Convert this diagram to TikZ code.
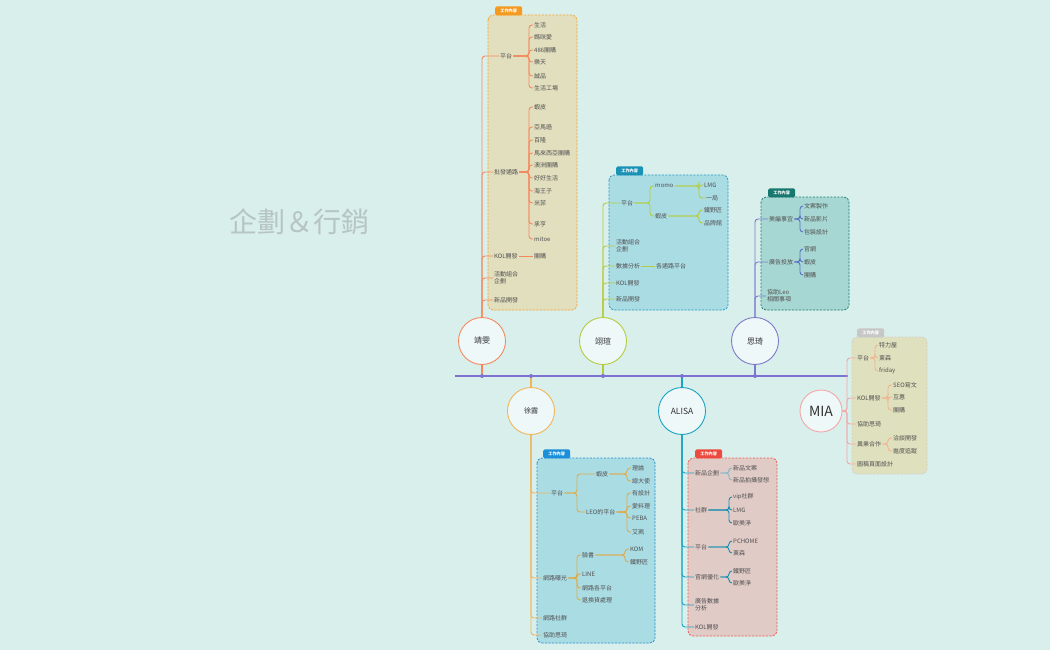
\documentclass[tikz,border=0pt]{standalone}
\usepackage{fontspec}
\setmainfont{Noto Sans CJK TC}
\definecolor{bgc}{HTML}{D9EFEC}
\definecolor{txt}{HTML}{505050}
\definecolor{ttl}{HTML}{B6C4C4}
\definecolor{pfill}{HTML}{EEF8F8}
\definecolor{axis}{HTML}{7B73CF}
\definecolor{jwc}{HTML}{F5895E}
\definecolor{yxc}{HTML}{B6CB3E}
\definecolor{sqc}{HTML}{7C7ACB}
\definecolor{sqd}{HTML}{5C72C4}
\definecolor{xlc}{HTML}{F2B458}
\definecolor{xld}{HTML}{DEAA4A}
\definecolor{alc}{HTML}{1AA3C2}
\definecolor{ald}{HTML}{1A8DB0}
\definecolor{ale}{HTML}{8DB8C8}
\definecolor{mic}{HTML}{F3A8A8}
\definecolor{mid}{HTML}{F2B590}
% boxes: border, fill, tag
\definecolor{jwb}{HTML}{F7A630}\definecolor{jwf}{HTML}{E2DFBE}\definecolor{jwt}{HTML}{F59A1E}
\definecolor{yxb}{HTML}{2A9DC4}\definecolor{yxf}{HTML}{AADCE4}\definecolor{yxt}{HTML}{1A92B6}
\definecolor{sqb}{HTML}{1F7F74}\definecolor{sqf}{HTML}{A7D7D3}\definecolor{sqt}{HTML}{16786E}
\definecolor{mib}{HTML}{D0D0C8}\definecolor{mif}{HTML}{DFE0BE}\definecolor{mit}{HTML}{C7C7C7}
\definecolor{xlb}{HTML}{2590D4}\definecolor{xlf}{HTML}{AADCE4}\definecolor{xlt}{HTML}{1C8FDA}
\definecolor{alb}{HTML}{EF5D57}\definecolor{alf}{HTML}{E1CBC7}\definecolor{alt}{HTML}{EC4A3F}
\begin{document}
\begin{tikzpicture}[x=1pt,y=-1pt,
  leaf/.style={anchor=west,inner sep=1pt,text=txt,font=\fontsize{6}{7.2}\selectfont,align=left},
  who/.style={circle,draw=#1,fill=pfill,line width=0.9pt,minimum size=47pt,inner sep=0pt,text=black!80,font=\fontsize{8}{9}\selectfont},
  workbox/.style 2 args={draw=#1,fill=#2,dash pattern=on 2.2pt off 1.3pt,line width=0.8pt,rounded corners=5pt},
  worktag/.style={fill=#1,text=white,font=\fontsize{4.2}{5}\selectfont\bfseries,inner sep=0pt,minimum width=27pt,minimum height=9pt,rounded corners=1.5pt,anchor=south west},
  limb/.style={draw=#1,line width=0.9pt,rounded corners=3pt}]
\fill[bgc] (0,0) rectangle (1050,650);
\useasboundingbox (0,0) rectangle (1050,650);

\node[text=ttl,font=\fontsize{28}{30}\selectfont] (title) at (299,222) {企劃＆行銷};

% work boxes
\draw[workbox={jwb}{jwf}] (488,15) rectangle (577,310);
\node[worktag=jwt] (jwtag) at (495,15.5) {工作內容};
\draw[workbox={yxb}{yxf}] (609,175) rectangle (728,310);
\node[worktag=yxt] (yxtag) at (616,175.5) {工作內容};
\draw[workbox={sqb}{sqf}] (761,197) rectangle (849,310);
\node[worktag=sqt] (sqtag) at (768,197.5) {工作內容};
\draw[workbox={mib}{mif}] (852,337) rectangle (927,474);
\node[worktag=mit] (mitag) at (857,337.5) {工作內容};
\draw[workbox={xlb}{xlf}] (537,458) rectangle (655,643);
\node[worktag=xlt] (xltag) at (543,458.5) {工作內容};
\draw[workbox={alb}{alf}] (688,458) rectangle (777,636);
\node[worktag=alt] (altag) at (695,458.5) {工作內容};

% time line
\coordinate (ax0) at (455,376);
\coordinate (ax1) at (848,376);
\draw[axis,line width=1.3pt] (ax0) -- (ax1);

% people
\node[who=jwc] (jw) at (482,341) {靖雯};
\node[who=yxc] (yx) at (603,341) {翊瑄};
\node[who=sqc] (sq) at (755,341) {思琦};
\node[who=xlc,font=\fontsize{7}{8}\selectfont] (xl) at (531,411) {徐露};
\node[who=alc,font=\fontsize{8.5}{9}\selectfont] (al) at (682,411) {ALISA};
\node[who=mic,minimum size=42pt,font=\fontsize{14}{15}\selectfont] (mia) at (821,411) {MIA};

\draw[jwc,line width=1.2pt] (jw.south) -- (jw.south |- ax0);
\draw[yxc,line width=1.2pt] (yx.south) -- (yx.south |- ax0);
\draw[sqc,line width=1.2pt] (sq.south) -- (sq.south |- ax0);
\draw[xlc,line width=1.2pt] (xl.north) -- (xl.north |- ax0);
\draw[alc,line width=1.2pt] (al.north) -- (al.north |- ax0);
\fill[axis] (jw |- ax0) circle (2pt);
\fill[axis] (xl |- ax0) circle (2pt);
\fill[axis] (yx |- ax0) circle (2pt);
\fill[axis] (al |- ax0) circle (2pt);
\fill[axis] (sq |- ax0) circle (2pt);

% 靖雯
\node[leaf] (jw1) at (499,56) {平台};
\node[leaf] (jw1a) at (533,25) {生活};
\node[leaf] (jw1b) at (533,37) {媽咪愛};
\node[leaf] (jw1c) at (533,50) {486團購};
\node[leaf] (jw1d) at (533,62) {樂天};
\node[leaf] (jw1e) at (533,76) {誠品};
\node[leaf] (jw1f) at (533,88) {生活工場};
\node[leaf] (jw2) at (493,172) {批發通路};
\node[leaf] (jw2a) at (533,107) {蝦皮};
\node[leaf] (jw2b) at (533,127) {亞馬遜};
\node[leaf] (jw2c) at (533,140) {百隆};
\node[leaf] (jw2d) at (533,153) {馬來西亞團購};
\node[leaf] (jw2e) at (533,165) {澳洲團購};
\node[leaf] (jw2f) at (533,178) {好好生活};
\node[leaf] (jw2g) at (533,191) {海王子};
\node[leaf] (jw2h) at (533,203) {米菲};
\node[leaf] (jw2i) at (533,224) {承亨};
\node[leaf] (jw2j) at (533,239) {mitoe};
\node[leaf] (jw3) at (493,256) {KOL開發};
\node[leaf] (jw3a) at (533,256) {團購};
\node[leaf] (jw4) at (493,278) {活動組合\\企劃};
\node[leaf] (jw5) at (493,300) {新品開發};
\coordinate (jwb1) at (529,56);
\coordinate (jwb2) at (529,172);
\draw[limb=jwc] (jw.north) |- (jw1.west);
\draw[limb=jwc] (jw.north) |- (jw2.west);
\draw[limb=jwc] (jw.north) |- (jw3.west);
\draw[limb=jwc] (jw.north) |- (jw4.west);
\draw[limb=jwc] (jw.north) |- (jw5.west);
\draw[limb=jwc] (jw1.east) -- (jwb1) |- (jw1a.west);
\draw[limb=jwc] (jw1.east) -- (jwb1) |- (jw1b.west);
\draw[limb=jwc] (jw1.east) -- (jwb1) |- (jw1c.west);
\draw[limb=jwc] (jw1.east) -- (jwb1) |- (jw1d.west);
\draw[limb=jwc] (jw1.east) -- (jwb1) |- (jw1e.west);
\draw[limb=jwc] (jw1.east) -- (jwb1) |- (jw1f.west);
\draw[limb=jwc] (jw2.east) -- (jwb2) |- (jw2a.west);
\draw[limb=jwc] (jw2.east) -- (jwb2) |- (jw2b.west);
\draw[limb=jwc] (jw2.east) -- (jwb2) |- (jw2c.west);
\draw[limb=jwc] (jw2.east) -- (jwb2) |- (jw2d.west);
\draw[limb=jwc] (jw2.east) -- (jwb2) |- (jw2e.west);
\draw[limb=jwc] (jw2.east) -- (jwb2) |- (jw2f.west);
\draw[limb=jwc] (jw2.east) -- (jwb2) |- (jw2g.west);
\draw[limb=jwc] (jw2.east) -- (jwb2) |- (jw2h.west);
\draw[limb=jwc] (jw2.east) -- (jwb2) |- (jw2i.west);
\draw[limb=jwc] (jw2.east) -- (jwb2) |- (jw2j.west);
\draw[limb=jwc] (jw3.east) -- (jw3a.west);

% 翊瑄
\node[leaf] (yx1) at (620,203) {平台};
\node[leaf] (yx1a) at (654,186) {momo};
\node[leaf] (yx1b) at (654,216) {蝦皮};
\node[leaf] (yx1a1) at (703,185) {LMG};
\node[leaf] (yx1a2) at (705,198) {一局};
\node[leaf] (yx1b1) at (703,210) {鐵野匠};
\node[leaf] (yx1b2) at (703,223) {品牌館};
\node[leaf] (yx2) at (615,246) {活動組合\\企劃};
\node[leaf] (yx3) at (615,266) {數據分析};
\node[leaf] (yx3a) at (655,266) {各通路平台};
\node[leaf] (yx4) at (615,283) {KOL開發};
\node[leaf] (yx5) at (615,299) {新品開發};
\coordinate (yxb1) at (650,203);
\coordinate (yxb2) at (699,186);
\coordinate (yxb3) at (699,216);
\draw[limb=yxc] (yx.north) |- (yx1.west);
\draw[limb=yxc] (yx.north) |- (yx2.west);
\draw[limb=yxc] (yx.north) |- (yx3.west);
\draw[limb=yxc] (yx.north) |- (yx4.west);
\draw[limb=yxc] (yx.north) |- (yx5.west);
\draw[limb=yxc] (yx1.east) -- (yxb1) |- (yx1a.west);
\draw[limb=yxc] (yx1.east) -- (yxb1) |- (yx1b.west);
\draw[limb=yxc] (yx1a.east) -- (yxb2) |- (yx1a1.west);
\draw[limb=yxc] (yx1a.east) -- (yxb2) |- (yx1a2.west);
\draw[limb=yxc] (yx1b.east) -- (yxb3) |- (yx1b1.west);
\draw[limb=yxc] (yx1b.east) -- (yxb3) |- (yx1b2.west);
\draw[limb=yxc] (yx3.east) -- (yx3a.west);

% 思琦
\node[leaf] (sq1) at (768,219) {美編事宜};
\node[leaf] (sq1a) at (803,206) {文案製作};
\node[leaf] (sq1b) at (803,219) {新品影片};
\node[leaf] (sq1c) at (803,232) {包裝設計};
\node[leaf] (sq2) at (768,262) {廣告投放};
\node[leaf] (sq2a) at (803,249) {官網};
\node[leaf] (sq2b) at (803,262) {蝦皮};
\node[leaf] (sq2c) at (803,275) {團購};
\node[leaf] (sq3) at (766,296) {協助Leo\\相關事項};
\coordinate (sqb1) at (800,219);
\coordinate (sqb2) at (800,262);
\draw[limb=sqc] (sq.north) |- (sq1.west);
\draw[limb=sqc] (sq.north) |- (sq2.west);
\draw[limb=sqc] (sq.north) |- (sq3.west);
\draw[limb=sqd] (sq1.east) -- (sqb1) |- (sq1a.west);
\draw[limb=sqd] (sq1.east) -- (sqb1) |- (sq1b.west);
\draw[limb=sqd] (sq1.east) -- (sqb1) |- (sq1c.west);
\draw[limb=sqd] (sq2.east) -- (sqb2) |- (sq2a.west);
\draw[limb=sqd] (sq2.east) -- (sqb2) |- (sq2b.west);
\draw[limb=sqd] (sq2.east) -- (sqb2) |- (sq2c.west);

% MIA
\node[leaf] (mi1) at (856,358) {平台};
\node[leaf] (mi1a) at (878,345) {特力屋};
\node[leaf] (mi1b) at (878,358) {東森};
\node[leaf] (mi1c) at (878,371) {friday};
\node[leaf] (mi2) at (856,398) {KOL開發};
\node[leaf] (mi2a) at (892,385) {SEO寫文};
\node[leaf] (mi2b) at (892,397) {互惠};
\node[leaf] (mi2c) at (892,410) {團購};
\node[leaf] (mi3) at (856,424) {協助思琦};
\node[leaf] (mi4) at (856,444) {異業合作};
\node[leaf] (mi4a) at (892,438) {洽談開發};
\node[leaf] (mi4b) at (892,451) {進度追蹤};
\node[leaf] (mi5) at (856,464) {圖稿頁面設計};
\coordinate (mib0) at (847,411);
\coordinate (mib1) at (875,358);
\coordinate (mib2) at (888,398);
\coordinate (mib4) at (888,444);
\draw[limb=mic] (mia.east) -- (mib0) |- (mi1.west);
\draw[limb=mic] (mia.east) -- (mib0) |- (mi2.west);
\draw[limb=mic] (mia.east) -- (mib0) |- (mi3.west);
\draw[limb=mic] (mia.east) -- (mib0) |- (mi4.west);
\draw[limb=mic] (mia.east) -- (mib0) |- (mi5.west);
\draw[limb=mid] (mi1.east) -- (mib1) |- (mi1a.west);
\draw[limb=mid] (mi1.east) -- (mib1) |- (mi1b.west);
\draw[limb=mid] (mi1.east) -- (mib1) |- (mi1c.west);
\draw[limb=mid] (mi2.east) -- (mib2) |- (mi2a.west);
\draw[limb=mid] (mi2.east) -- (mib2) |- (mi2b.west);
\draw[limb=mid] (mi2.east) -- (mib2) |- (mi2c.west);
\draw[limb=mid] (mi4.east) -- (mib4) |- (mi4a.west);
\draw[limb=mid] (mi4.east) -- (mib4) |- (mi4b.west);

% 徐露
\node[leaf] (xl1) at (550,493) {平台};
\node[leaf] (xl1a) at (595,474) {蝦皮};
\node[leaf] (xl1b) at (585,512) {LEO的平台};
\node[leaf] (xl1a1) at (631,468) {理論};
\node[leaf] (xl1a2) at (631,481) {總大使};
\node[leaf] (xl1b1) at (631,493) {有設計};
\node[leaf] (xl1b2) at (631,506) {愛料理};
\node[leaf] (xl1b3) at (631,518) {PEBA};
\node[leaf] (xl1b4) at (631,532) {艾珮};
\node[leaf] (xl2) at (542,578) {網路曝光};
\node[leaf] (xl2a) at (581,555) {臉書};
\node[leaf] (xl2b) at (581,574) {LINE};
\node[leaf] (xl2c) at (581,588) {網路各平台};
\node[leaf] (xl2d) at (581,600) {退換貨處理};
\node[leaf] (xl2a1) at (629,549) {KOM};
\node[leaf] (xl2a2) at (629,562) {鐵野匠};
\node[leaf] (xl3) at (542,618) {網路社群};
\node[leaf] (xl4) at (542,635) {協助思琦};
\coordinate (xlb1) at (577,493);
\coordinate (xlb2) at (627,474);
\coordinate (xlb3) at (627,512);
\coordinate (xlb4) at (577,578);
\coordinate (xlb5) at (625,555);
\draw[limb=xlc] (xl.south) |- (xl1.west);
\draw[limb=xlc] (xl.south) |- (xl2.west);
\draw[limb=xlc] (xl.south) |- (xl3.west);
\draw[limb=xlc] (xl.south) |- (xl4.west);
\draw[limb=xld] (xl1.east) -- (xlb1) |- (xl1a.west);
\draw[limb=xld] (xl1.east) -- (xlb1) |- (xl1b.west);
\draw[limb=xld] (xl1a.east) -- (xlb2) |- (xl1a1.west);
\draw[limb=xld] (xl1a.east) -- (xlb2) |- (xl1a2.west);
\draw[limb=xld] (xl1b.east) -- (xlb3) |- (xl1b1.west);
\draw[limb=xld] (xl1b.east) -- (xlb3) |- (xl1b2.west);
\draw[limb=xld] (xl1b.east) -- (xlb3) |- (xl1b3.west);
\draw[limb=xld] (xl1b.east) -- (xlb3) |- (xl1b4.west);
\draw[limb=xld] (xl2.east) -- (xlb4) |- (xl2a.west);
\draw[limb=xld] (xl2.east) -- (xlb4) |- (xl2b.west);
\draw[limb=xld] (xl2.east) -- (xlb4) |- (xl2c.west);
\draw[limb=xld] (xl2.east) -- (xlb4) |- (xl2d.west);
\draw[limb=xld] (xl2a.east) -- (xlb5) |- (xl2a1.west);
\draw[limb=xld] (xl2a.east) -- (xlb5) |- (xl2a2.west);

% ALISA
\node[leaf] (al1) at (694,473) {新品企劃};
\node[leaf] (al1a) at (732,468) {新品文案};
\node[leaf] (al1b) at (732,480) {新品拍攝發想};
\node[leaf] (al2) at (694,510) {社群};
\node[leaf] (al2a) at (732,497) {vip社群};
\node[leaf] (al2b) at (732,510) {LMG};
\node[leaf] (al2c) at (732,523) {歐美淨};
\node[leaf] (al3) at (694,547) {平台};
\node[leaf] (al3a) at (732,541) {PCHOME};
\node[leaf] (al3b) at (732,553) {東森};
\node[leaf] (al4) at (694,577) {官網優化};
\node[leaf] (al4a) at (732,571) {鐵野匠};
\node[leaf] (al4b) at (732,583) {歐美淨};
\node[leaf] (al5) at (694,605) {廣告數據\\分析};
\node[leaf] (al6) at (694,627) {KOL開發};
\coordinate (alb1) at (729,473);
\coordinate (alb2) at (729,510);
\coordinate (alb3) at (729,547);
\coordinate (alb4) at (729,577);
\draw[limb=alc] (al.south) |- (al1.west);
\draw[limb=alc] (al.south) |- (al2.west);
\draw[limb=alc] (al.south) |- (al3.west);
\draw[limb=alc] (al.south) |- (al4.west);
\draw[limb=alc] (al.south) |- (al5.west);
\draw[limb=alc] (al.south) |- (al6.west);
\draw[limb=ale] (al1.east) -- (alb1) |- (al1a.west);
\draw[limb=ale] (al1.east) -- (alb1) |- (al1b.west);
\draw[limb=ald] (al2.east) -- (alb2) |- (al2a.west);
\draw[limb=ald] (al2.east) -- (alb2) |- (al2b.west);
\draw[limb=ald] (al2.east) -- (alb2) |- (al2c.west);
\draw[limb=ald] (al3.east) -- (alb3) |- (al3a.west);
\draw[limb=ald] (al3.east) -- (alb3) |- (al3b.west);
\draw[limb=ald] (al4.east) -- (alb4) |- (al4a.west);
\draw[limb=ald] (al4.east) -- (alb4) |- (al4b.west);
\end{tikzpicture}
\end{document}
